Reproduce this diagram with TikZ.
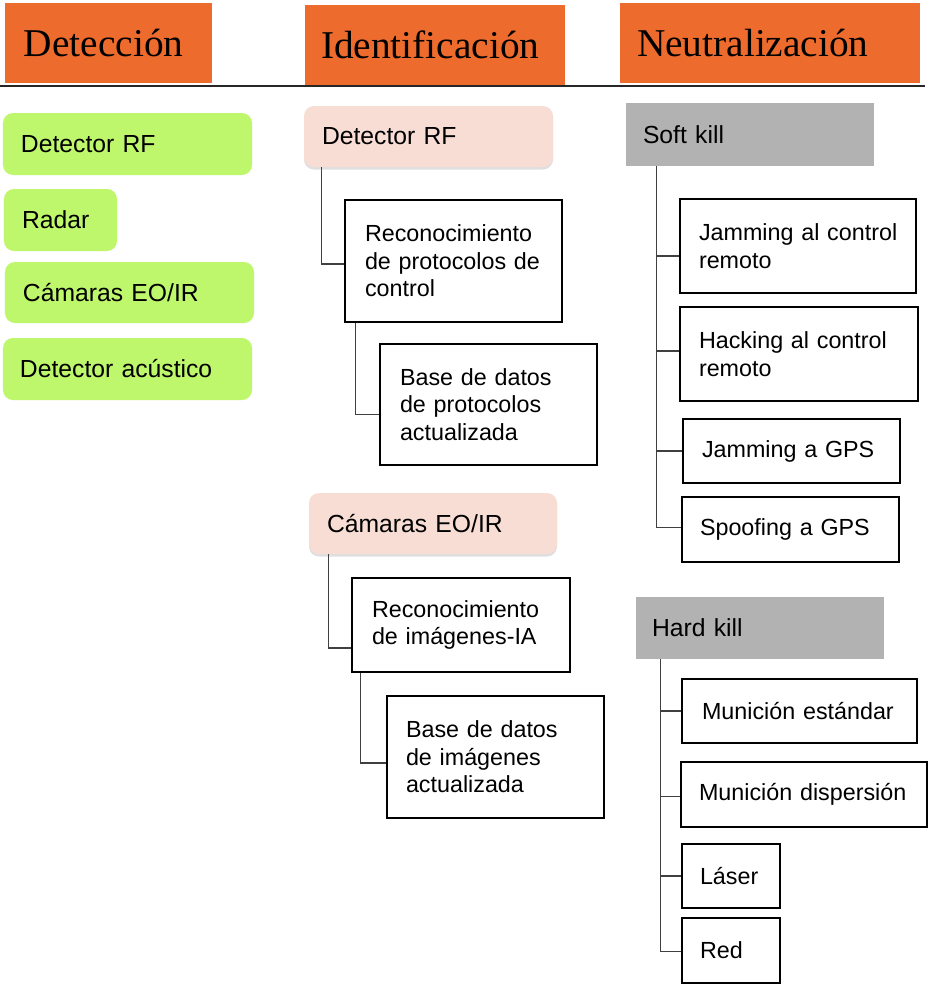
\documentclass[tikz,border=0pt]{standalone}
\usepackage{fontspec}
\setmainfont{Liberation Sans}
\newfontfamily\headfont{Liberation Serif}
\usetikzlibrary{shadows}
\definecolor{hdr}{RGB}{237,107,45}
\definecolor{grn}{RGB}{190,246,108}
\definecolor{pnk}{RGB}{248,221,213}
\definecolor{gry}{RGB}{178,178,178}
% #1 name, #2 style, #3 x1, #4 y1, #5 x2, #6 y2, #7 left pad, #8 text
\newcommand\mkbox[8]{%
  \pgfmathsetmacro\bxcx{(#3+#5)/2}%
  \pgfmathsetmacro\bxcy{(#4+#6)/2}%
  \pgfmathsetmacro\bxw{#5-#3}%
  \pgfmathsetmacro\bxh{#6-#4}%
  \pgfmathsetmacro\bxtw{#5-#3-2*#7}%
  \node[#2, minimum width=\bxw bp, minimum height=\bxh bp, text width=\bxtw bp,
        inner xsep=#7 bp, inner ysep=0pt, align=left] (#1) at (\bxcx,\bxcy) {#8};}
\tikzset{
  head/.style={fill=hdr, font=\headfont\fontsize{39.5}{44}\selectfont},
  det/.style={fill=grn, rounded corners=10bp, font=\fontsize{24.8}{28}\selectfont},
  idf/.style={fill=pnk, rounded corners=10bp, font=\fontsize{24.8}{28}\selectfont,
              drop shadow={opacity=0.25, shadow xshift=0bp, shadow yshift=-2.5bp}},
  blk/.style={draw=black, line width=2.8bp, fill=white, font=\fontsize{23.4}{27.5}\selectfont},
  gbox/.style={fill=gry, font=\fontsize{24.8}{28}\selectfont},
  conn/.style={draw=black!75, line width=1.3bp}
}
\begin{document}
\begin{tikzpicture}[x=1bp, y=-1bp]
\useasboundingbox[fill=white] (0,0) rectangle (929,985);
% headers
\mkbox{hDet}{head}{5}{3}{212}{83}{19}{\mbox{Detección}}
\mkbox{hIde}{head}{305}{5}{565}{85}{16}{\mbox{Identificación}}
\mkbox{hNeu}{head}{620}{3}{920}{83}{17}{\mbox{Neutralización}}
\draw[line width=2.5bp, black!85] (0,86) -- (925,86);
% detection
\mkbox{dRF}{det}{3}{113}{252}{175}{18}{\mbox{Detector RF}}
\mkbox{dRad}{det}{4}{189}{117}{251}{18}{\mbox{Radar}}
\mkbox{dCam}{det}{5}{262}{254}{323}{18}{\mbox{Cámaras EO/IR}}
\mkbox{dAcu}{det}{3}{338}{252}{400}{17}{\mbox{Detector acústico}}
% identification
\mkbox{iRF}{idf}{304}{106}{553}{167}{18}{\mbox{Detector RF}}
\mkbox{recA}{blk}{345}{200}{562}{322}{20}{\mbox{Reconocimiento}\\\mbox{de protocolos de}\\\mbox{control}}
\mkbox{baseA}{blk}{380}{344}{597}{465}{20}{\mbox{Base de datos}\\\mbox{de protocolos}\\\mbox{actualizada}}
\mkbox{iCam}{idf}{309}{493}{557}{554}{18}{\mbox{Cámaras EO/IR}}
\mkbox{recB}{blk}{352}{578}{570}{672}{20}{\mbox{Reconocimiento}\\\mbox{de imágenes-IA}}
\mkbox{baseB}{blk}{387}{696}{604}{818}{19}{\mbox{Base de datos}\\\mbox{de imágenes}\\\mbox{actualizada}}
% neutralization
\mkbox{soft}{gbox}{626}{103}{874}{166}{17}{\mbox{Soft kill}}
\mkbox{jamC}{blk}{680}{199}{916}{293}{19}{\mbox{Jamming al control}\\\mbox{remoto}}
\mkbox{hack}{blk}{680}{307}{918}{401}{19}{\mbox{Hacking al control}\\\mbox{remoto}}
\mkbox{jGPS}{blk}{683}{419}{900}{483}{19}{\mbox{Jamming a GPS}}
\mkbox{sGPS}{blk}{682}{497}{899}{562}{18}{\mbox{Spoofing a GPS}}
\mkbox{hard}{gbox}{636}{597}{884}{659}{16}{\mbox{Hard kill}}
\mkbox{mStd}{blk}{682}{679}{917}{743}{20}{\mbox{Munición estándar}}
\mkbox{mDis}{blk}{681}{762}{927}{827}{18}{\mbox{Munición dispersión}}
\mkbox{las}{blk}{682}{844}{780}{908}{18}{\mbox{Láser}}
\mkbox{red}{blk}{682}{918}{780}{983}{18}{\mbox{Red}}
% connectors
\draw[conn] (iRF.south west) ++(18,0) |- ([yshift=-3bp]recA.west);
\draw[conn] (recA.south west) ++(12,0) |- ([yshift=-10bp]baseA.west);
\draw[conn] (iCam.south west) ++(20,0) |- ([yshift=-23bp]recB.west);
\draw[conn] (recB.south west) ++(10,0) |- ([yshift=-6bp]baseB.west);
\draw[conn] (soft.south west) ++(31,0) |- ([yshift=-10bp]jamC.west);
\draw[conn] (soft.south west) ++(31,0) |- ([yshift=3bp]hack.west);
\draw[conn] (soft.south west) ++(31,0) |- (jGPS.west);
\draw[conn] (soft.south west) ++(31,0) |- ([yshift=2bp]sGPS.west);
\draw[conn] (hard.south west) ++(25,0) |- (mStd.west);
\draw[conn] (hard.south west) ++(25,0) |- ([yshift=-2bp]mDis.west);
\draw[conn] (hard.south west) ++(25,0) |- (las.west);
\draw[conn] (hard.south west) ++(25,0) |- ([yshift=-1bp]red.west);
\end{tikzpicture}
\end{document}
